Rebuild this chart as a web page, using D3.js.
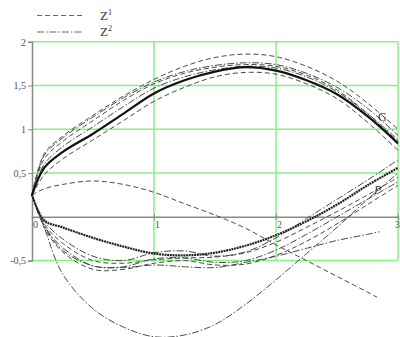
<!DOCTYPE html>
<html>
<head>
<meta charset="utf-8">
<script src="https://cdn.jsdelivr.net/npm/d3@7"></script>
<style>
  html, body { margin: 0; padding: 0; background: #fff; }
  svg { display: block; }
  .tick text { font-family: "Liberation Serif", serif; font-size: 10px; fill: #555; }
</style>
</head>
<body>
<svg id="chart" width="400" height="337"></svg>
<script>
// sample positions along t
const xs = [0, 0.1, 0.25, 0.5, 0.75, 1, 1.25, 1.5, 1.75, 2, 2.25, 2.5, 2.75, 3];
const xsD = [0, 0.1, 0.25, 0.5, 0.75, 1, 1.25, 1.5, 1.75, 2, 2.25, 2.5, 2.75, 2.83];
const xsF = [0, 0.1, 0.25, 0.5, 0.75, 1, 1.25, 1.5, 1.75, 2, 2.25, 2.5, 2.75, 2.85];

// main solutions
const G = [0.25, 0.56, 0.74, 0.95, 1.18, 1.41, 1.56, 1.66, 1.71, 1.67, 1.56, 1.40, 1.15, 0.84];
const P = [0.25, -0.04, -0.12, -0.24, -0.34, -0.42, -0.44, -0.41, -0.33, -0.21, -0.05, 0.14, 0.36, 0.56];

// Z1 family (dashed)
const z1a = [0.25, 0.72, 0.92, 1.16, 1.38, 1.57, 1.72, 1.82, 1.86, 1.83, 1.72, 1.55, 1.30, 1.00];
const z1b = [0.25, 0.66, 0.86, 1.10, 1.33, 1.52, 1.64, 1.71, 1.74, 1.72, 1.62, 1.45, 1.18, 0.86];
const z1c = [0.25, 0.48, 0.66, 0.88, 1.10, 1.32, 1.48, 1.60, 1.65, 1.63, 1.52, 1.35, 1.08, 0.76];
const z1d = [0.25, -0.08, -0.30, -0.50, -0.53, -0.49, -0.47, -0.46, -0.41, -0.29, -0.12, 0.06, 0.25, 0.45];
const z1e = [0.25, -0.12, -0.40, -0.60, -0.60, -0.53, -0.50, -0.55, -0.54, -0.44, -0.28, -0.08, 0.14, 0.36];
const z1f = [0.25, 0.32, 0.37, 0.41, 0.37, 0.28, 0.15, 0.02, -0.13, -0.32, -0.50, -0.68, -0.86, -0.92];

// Z2 family (dash-dot)
const z2a = [0.25, 0.70, 0.90, 1.14, 1.36, 1.54, 1.66, 1.73, 1.76, 1.74, 1.64, 1.48, 1.24, 0.93];
const z2b = [0.25, 0.60, 0.80, 1.03, 1.26, 1.47, 1.60, 1.68, 1.72, 1.70, 1.60, 1.43, 1.18, 0.88];
const z2c = [0.25, -0.05, -0.25, -0.45, -0.50, -0.41, -0.39, -0.45, -0.40, -0.24, -0.02, 0.20, 0.42, 0.65];
const z2d = [0.25, -0.10, -0.35, -0.56, -0.57, -0.48, -0.47, -0.52, -0.50, -0.38, -0.20, 0.00, 0.20, 0.40];
const z2e = [0.25, -0.10, -0.38, -0.56, -0.58, -0.55, -0.57, -0.58, -0.52, -0.45, -0.36, -0.27, -0.20, -0.17];
const z2f = [0.25, -0.12, -0.65, -1.05, -1.26, -1.37, -1.35, -1.23, -1.00, -0.72, -0.42, -0.12, 0.20, 0.50];

const yTicks = [-0.5, 0.5, 1, 1.5, 2];
const xTicks = [0, 1, 2, 3];
const yGrid = [-0.5, 0.5, 1, 1.5, 2];
const xGrid = [1, 2, 3];
const legendLabels = ["Z", "Z"];
const legendSup = ["1", "2"];

const svg = d3.select("#chart");
const x = d3.scaleLinear().domain([0, 3]).range([32, 398]);
const y = d3.scaleLinear().domain([-0.5, 2]).range([260.6, 41.8]);

const GRID = "#86f286";
const AXIS = "#8a8a8a";
const DASH = "5,3";
const DASHDOT = "7,2,1.5,2";

// grid
svg.append("g").selectAll("line").data(yGrid).join("line")
  .attr("x1", x(0)).attr("x2", x(3))
  .attr("y1", d => y(d)).attr("y2", d => y(d))
  .attr("stroke", GRID).attr("stroke-width", 1.5);
svg.append("g").selectAll("line").data(xGrid).join("line")
  .attr("x1", d => x(d)).attr("x2", d => x(d))
  .attr("y1", y(2)).attr("y2", y(-0.5))
  .attr("stroke", GRID).attr("stroke-width", 1.5);

// axes
const fmt = d => String(d).replace(".", ",");
const yAxis = svg.append("g").attr("transform", `translate(${x(0)},0)`)
  .call(d3.axisLeft(y).tickValues(yTicks).tickFormat(fmt).tickSize(4).tickPadding(2));
yAxis.select(".domain").attr("stroke", AXIS).attr("stroke-width", 1.5);
yAxis.selectAll(".tick line").attr("stroke", AXIS);

const xAxis = svg.append("g").attr("transform", `translate(0,${y(0)})`)
  .call(d3.axisBottom(x).tickValues(xTicks).tickFormat(d3.format("d")).tickSize(3).tickPadding(1));
xAxis.select(".domain").attr("stroke", AXIS).attr("stroke-width", 1.5);
xAxis.selectAll(".tick line").attr("stroke", AXIS).attr("y1", -3);
xAxis.selectAll(".tick text").attr("dx", d => d === 3 ? -1 : 3);

// curves
const line = (xv) => d3.line()
  .x((d, i) => x(xv[i])).y(d => y(d))
  .curve(d3.curveCatmullRom.alpha(0.5));

const thin = [
  [z1a, xs, DASH], [z1b, xs, DASH], [z1c, xs, DASH], [z1d, xs, DASH], [z1e, xs, DASH], [z1f, xsD, DASH],
  [z2a, xs, DASHDOT], [z2b, xs, DASHDOT], [z2c, xs, DASHDOT], [z2d, xs, DASHDOT], [z2e, xsF, DASHDOT], [z2f, xs, DASHDOT]
];
svg.append("g").selectAll("path").data(thin).join("path")
  .attr("d", d => line(d[1])(d[0]))
  .attr("fill", "none").attr("stroke", "#4a4a4a").attr("stroke-width", 1)
  .attr("stroke-dasharray", d => d[2]);

svg.append("path").attr("d", line(xs)(G))
  .attr("fill", "none").attr("stroke", "#111").attr("stroke-width", 2.2);
svg.append("path").attr("d", line(xs)(P))
  .attr("fill", "none").attr("stroke", "#222").attr("stroke-width", 2.2)
  .attr("stroke-dasharray", "2,0.7");

// curve labels
svg.append("text").attr("x", 378).attr("y", 121).text("G")
  .attr("font-family", "Liberation Serif, serif").attr("font-size", 12).attr("fill", "#333");
svg.append("text").attr("x", 374).attr("y", 194).text("P")
  .attr("font-family", "Liberation Serif, serif").attr("font-style", "italic").attr("font-size", 12).attr("fill", "#333");

// legend
const lg = svg.append("g");
const styles = [DASH, DASHDOT];
const rows = [15.5, 32];
lg.selectAll("line").data(rows).join("line")
  .attr("x1", 37).attr("x2", 83).attr("y1", d => d).attr("y2", d => d)
  .attr("stroke", "#666").attr("stroke-width", 1)
  .attr("stroke-dasharray", (d, i) => styles[i]);
const lt = lg.selectAll("text").data(rows).join("text")
  .attr("x", 100).attr("y", d => d + 4)
  .attr("font-family", "Liberation Serif, serif").attr("font-size", 13).attr("fill", "#333");
lt.append("tspan").text((d, i) => legendLabels[i]);
lt.append("tspan").attr("dy", -5).attr("font-size", 8).text((d, i) => legendSup[i]);
</script>
</body>
</html>
